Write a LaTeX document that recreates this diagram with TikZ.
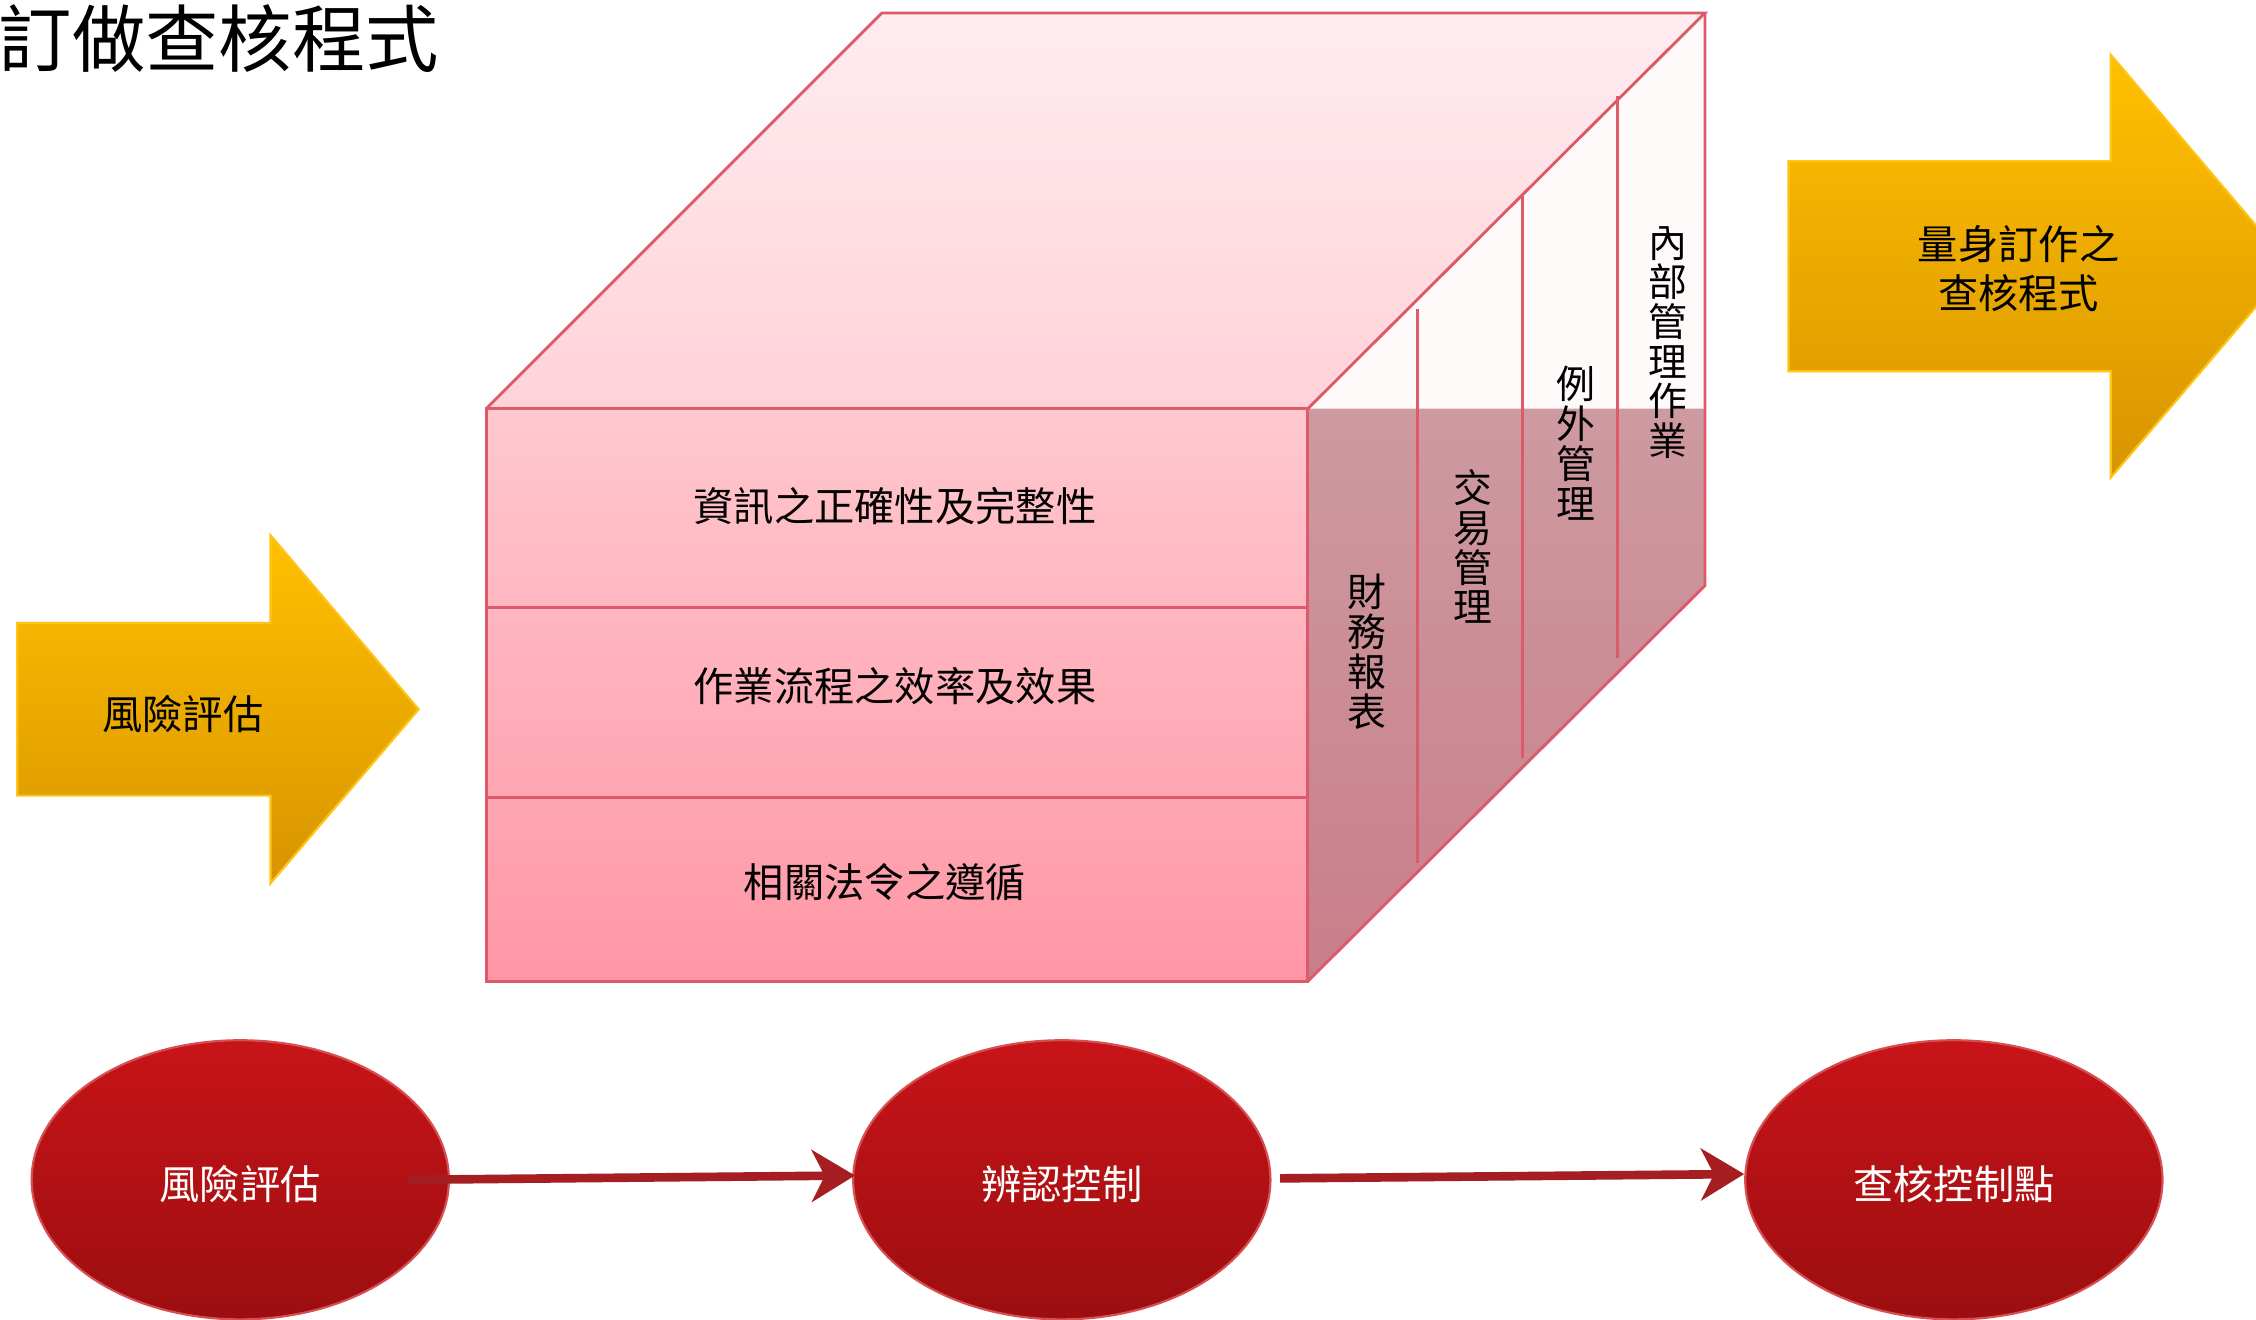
\documentclass[tikz,border=0pt]{standalone}
\usepackage{fontspec}
\newfontfamily\cjk{Noto Sans CJK TC}
\usetikzlibrary{shapes.geometric,arrows.meta,calc}
\definecolor{edgeC}{RGB}{220,90,105}
\definecolor{frontTop}{RGB}{255,200,207}
\definecolor{frontBot}{RGB}{255,150,165}
\definecolor{topTop}{RGB}{255,236,239}
\definecolor{topBot}{RGB}{255,210,217}
\definecolor{sideLight}{RGB}{255,250,250}
\definecolor{darkTop}{RGB}{206,154,161}
\definecolor{darkBot}{RGB}{200,126,138}
\definecolor{goldTop}{RGB}{255,192,0}
\definecolor{goldBot}{RGB}{216,148,0}
\definecolor{goldEdge}{RGB}{255,196,20}
\definecolor{redTop}{RGB}{200,20,24}
\definecolor{redBot}{RGB}{156,14,16}
\definecolor{connC}{RGB}{165,30,34}
\tikzset{
  edgeline/.style={draw=edgeC, line width=2pt, line join=miter},
  gold/.style={top color=goldTop, bottom color=goldBot, draw=goldEdge, line width=1.5pt},
  lbl/.style={font=\cjk\fontsize{28}{34}\selectfont, inner sep=0pt, align=center, text=black},
  vtext/.style={font=\cjk\fontsize{27}{27.6}\selectfont, inner sep=0pt, align=center, text=black},
  ball/.style={ellipse, minimum width=290pt, minimum height=194pt, inner sep=0pt,
    top color=redTop, bottom color=redBot, draw=redTop!75!white, line width=1.5pt,
    text=white, font=\cjk\fontsize{28}{34}\selectfont},
  balltext/.style={text=white, font=\cjk\fontsize{28}{34}\selectfont, inner sep=0pt},
  conn/.style={draw=connC, line width=6pt, -{Stealth[length=30pt, width=36pt, inset=9pt]}}
}
\begin{document}
\begin{tikzpicture}[x=1pt,y=-1pt]
\useasboundingbox (0,0) rectangle (1568,917);
\fill[white] (0,0) rectangle (1568,917);

% title
\node[anchor=west, inner sep=0pt, font=\cjk\fontsize{51}{51}\selectfont] (title) at (-1,27) {訂做查核程式};

% cube faces
\shade[top color=topTop, bottom color=topBot] (338,284) -- (613,9) -- (1185,9) -- (909,284) -- cycle;
\fill[sideLight] (909,284) -- (1185,9) -- (1185,407) -- (909,682) -- cycle;
\shade[top color=darkTop, bottom color=darkBot] (909,284) -- (1185,284) -- (1185,407) -- (909,682) -- cycle;
\shade[top color=frontTop, bottom color=frontBot] (338,284) rectangle (909,682);

% edges
\draw[edgeline] (338,284) -- (613,9) -- (1185,9) -- (909,284);
\draw[edgeline] (1185,9) -- (1185,407) -- (909,682);
\draw[edgeline] (338,284) rectangle (909,682);
\draw[edgeline] (338,422) -- (909,422);
\draw[edgeline] (338,554) -- (909,554);
\draw[edgeline] (985,215) -- (985,600);
\draw[edgeline] (1058,136) -- (1058,527);
\draw[edgeline] (1124,67) -- (1124,457);

% front labels
\node[lbl] (f1) at (622,352) {資訊之正確性及完整性};
\node[lbl] (f2) at (622,477) {作業流程之效率及效果};
\node[lbl] (f3) at (615,613) {相關法令之遵循};

% side labels
\node[vtext] (s1) at (950,453) {財\\務\\報\\表};
\node[vtext] (s2) at (1024,380) {交\\易\\管\\理};
\node[vtext] (s3) at (1095,308) {例\\外\\管\\理};
\node[vtext] (s4) at (1159,238) {內\\部\\管\\理\\作\\業};

% gold arrows
\shadedraw[gold] (12,433) -- (188,433) -- (188,372) -- (291,493) -- (188,614) -- (188,553) -- (12,553) -- cycle;
\node[lbl] (a1) at (127,496) {風險評估};
\shadedraw[gold] (1243,112) -- (1467,112) -- (1467,38) -- (1592,185) -- (1467,332) -- (1467,258) -- (1243,258) -- cycle;
\node[lbl] (a2) at (1403,187) {量身訂作之\\查核程式};

% red buttons
\node[ball] (e1) at (167,820) {};
\node[ball] (e2) at (738,820) {};
\node[ball] (e3) at (1358,820) {};
\node[balltext] (t1) at ($(e1.center)+(0,3)$) {風險評估};
\node[balltext] (t2) at ($(e2.center)+(0,3)$) {辨認控制};
\node[balltext] (t3) at ($(e3.center)+(0,3)$) {查核控制點};

\draw[conn] ($(e1.east)+(-29,0)$) -- ($(e2.west)+(2,-3)$);
\draw[conn] ($(e2.east)+(6,-1)$) -- ($(e3.west)+(0,-4)$);
\end{tikzpicture}
\end{document}
